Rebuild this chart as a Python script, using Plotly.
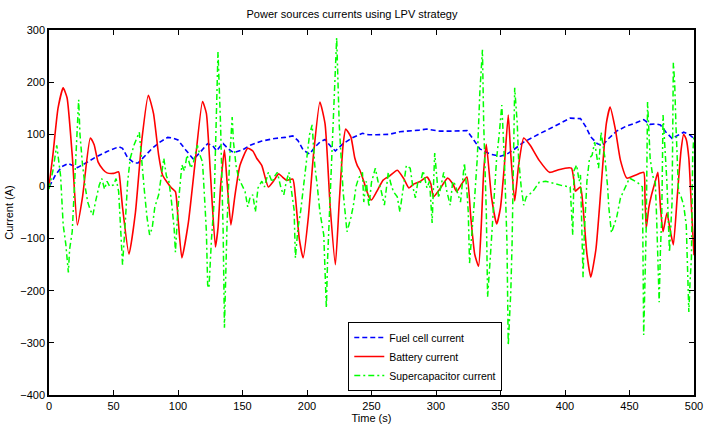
import plotly.graph_objects as go

fc_t = [0,1,5,10,15,22,30,36,45,54,57,61,66,69,75,80,86,92,96,100,106,112,117,123,127,130,133,135,139,143,150,156,165,175,183,189,193,197,202,206,210,214,218,222,228,235,243,248,254,260,264,272,280,287,293,298,303,310,318,324,329,334,342,350,355,360,368,375,381,390,397,404,412,416,420,425,429,433,440,447,455,461,466,470,474,478,483,487,492,496,500]
fc_v = [0,3,22,38,44,36,47,56,67,76,73,55,45,45,60,73,85,94,93,89,70,52,65,82,78,68,78,82,72,65,70,79,87,92,94,97,88,70,62,75,85,90,78,68,82,93,102,99,99,100,100,105,106,108,110,108,106,106,106,107,90,72,62,58,62,70,85,95,102,113,122,131,130,115,95,82,78,90,106,115,122,128,119,120,118,105,92,97,104,100,92]

bat_t = [0,3,7,11,14,18,22,26,32,35,38,42,45,50,54,55,57,62,67,72,77,81,85,88,91,95,98,100,103,108,113,119,122,125,129,131,133,136,138,141,144,148,154,158,161,165,170,174,178,181,184,189,191,194,197,201,205,210,214,218,222,225,228,230,234,237,239,241,244,248,250,254,259,264,270,275,279,283,288,293,296,298,303,309,313,316,320,324,327,330,333,335,337,339,343,347,350,353,356,358,361,364,368,373,380,388,395,400,405,407,408,412,414,417,420,424,428,432,435,439,443,448,455,461,462,463,465,467,470,472,474,476,479,482,484,487,490,492,494,496,498,500]
bat_v = [0,60,150,189,170,60,-74,-20,93,80,47,32,26,25,28,12,-40,-130,-50,90,175,140,60,22,10,-3,-10,-60,-137,-70,40,163,140,30,-116,-80,0,70,10,-74,-20,40,73,68,54,40,-1,10,24,18,12,14,-20,-100,-137,-60,60,162,120,-40,-150,-30,80,110,95,55,40,31,10,-20,-26,-10,12,20,31,15,-3,5,10,18,5,-20,-5,16,5,-10,5,18,-60,-130,-153,-80,30,81,-20,-72,-40,40,137,60,-28,40,93,79,50,27,32,35,35,10,-9,-1,-40,-130,-174,-120,0,120,152,110,50,16,22,27,-20,-80,-40,-17,10,27,-40,-87,-51,-90,-112,-20,70,100,90,54,-40,-132]

sc_t = [0,3,6,9,11,13,15,16,18,20,23,24,26,28,30,32,34,36,39,41,43,45,47,50,52,54,55,57,59,61,63,66,70,72,74,76,78,80,82,85,87,89,91,93,95,97,98,100,103,105,107,110,112,115,117,119,121,122,123,124,126,128,129,130,131,133,135,136,138,140,142,143,145,147,150,152,154,156,158,160,162,165,167,170,173,175,177,180,182,184,186,188,190,191,193,195,198,200,202,204,206,208,210,213,215,216,218,220,222,223,225,227,228,231,234,236,238,240,241,243,244,246,248,250,253,255,257,260,263,265,267,270,272,275,277,280,282,284,286,288,290,293,295,297,299,302,304,306,308,311,313,315,317,319,321,322,324,325,326,328,330,332,334,336,337,339,340,342,343,345,347,349,351,353,355,356,358,359,360,361,363,364,366,368,370,375,380,385,391,397,404,406,407,409,411,412,414,415,417,419,421,423,426,428,430,431,433,434,436,440,443,447,450,456,460,461,462,463,464,466,468,470,471,473,474,475,476,478,479,481,482,483,484,485,486,488,490,492,494,496,497,498,499,500]
sc_v = [-5,30,79,20,-74,-110,-165,-120,-87,20,166,100,41,0,-30,-45,-55,-30,3,15,-5,10,0,3,15,-10,-60,-150,-74,10,54,80,104,40,-10,-60,-93,-80,-40,-16,20,54,20,9,-30,-80,-126,-40,41,30,60,35,47,79,60,47,-40,-87,-189,-195,-99,-30,66,200,258,118,-87,-271,-74,50,133,85,40,16,0,-10,-39,-20,-16,-49,-3,10,-1,27,8,20,27,-5,-16,10,27,-10,-45,-137,-80,-49,20,54,100,118,41,0,-49,-93,-233,-137,-20,85,200,285,118,20,-10,-87,-60,-36,0,16,20,27,-30,10,-39,8,35,10,-3,-36,27,5,-10,-20,-49,8,40,35,0,-22,10,8,30,-3,10,-70,64,-22,0,27,-5,-36,10,3,-15,-30,20,45,-10,-49,-147,-87,-20,54,181,262,118,-49,-212,-140,-99,-20,54,100,156,54,-107,-305,-200,-107,50,189,120,54,0,-36,-20,-10,8,10,6,2,-1,-93,30,41,10,22,-174,-87,10,54,60,85,35,104,70,54,0,-41,-89,-60,-22,0,16,8,-1,-285,-150,-74,162,54,20,8,-58,-222,-120,-58,137,40,8,-126,-80,-30,237,200,118,-10,-20,-36,-74,-241,-180,-137,60,100]

x_ticks = [0,50,100,150,200,250,300,350,400,450,500]
y_ticks = [-400,-300,-200,-100,0,100,200,300]

FONT = "Liberation Sans, Arial, sans-serif"

fig = go.Figure()
fig.add_trace(go.Scatter(x=fc_t, y=fc_v, mode="lines", name="Fuel cell current",
                         line=dict(color="#0000FF", width=1.6, dash="5px,3px")))
fig.add_trace(go.Scatter(x=bat_t, y=bat_v, mode="lines", name="Battery current",
                         line=dict(color="#FF0000", width=1.6, shape="spline", smoothing=0.5)))
fig.add_trace(go.Scatter(x=sc_t, y=sc_v, mode="lines", name="Supercapacitor current",
                         line=dict(color="#00FF00", width=1.5, dash="6px,3px,2px,3px")))

axis_common = dict(showgrid=False, zeroline=False, showline=True, linecolor="black",
                   linewidth=1.5, mirror="ticks", ticks="inside", ticklen=5,
                   tickcolor="black", automargin=False,
                   tickfont=dict(family=FONT, size=11, color="black"))

fig.update_layout(
    width=704, height=425,
    margin=dict(l=49, r=10, t=30, b=30, autoexpand=False),
    paper_bgcolor="white", plot_bgcolor="white",
    font=dict(family=FONT, size=11, color="black"),
    title=dict(text="Power sources currents using LPV strategy", x=0.5, xanchor="center",
               y=0.967, yanchor="middle", font=dict(family=FONT, size=11, color="black")),
    xaxis=dict(range=[0, 500], tickvals=x_ticks, title=dict(text="Time (s)", standoff=0,
               font=dict(family=FONT, size=11)), **axis_common),
    yaxis=dict(range=[-400, 300], tickvals=y_ticks, title=dict(text="Current (A)", standoff=4,
               font=dict(family=FONT, size=11)), **axis_common),
    legend=dict(x=0.464, y=0.2, xanchor="left", yanchor="top", bgcolor="white",
                bordercolor="black", borderwidth=1, itemwidth=30,
                font=dict(family=FONT, size=10.5), tracegroupgap=0),
    showlegend=True,
)
fig.update_yaxes(tickformat="d")

fig.write_html("out.html")
